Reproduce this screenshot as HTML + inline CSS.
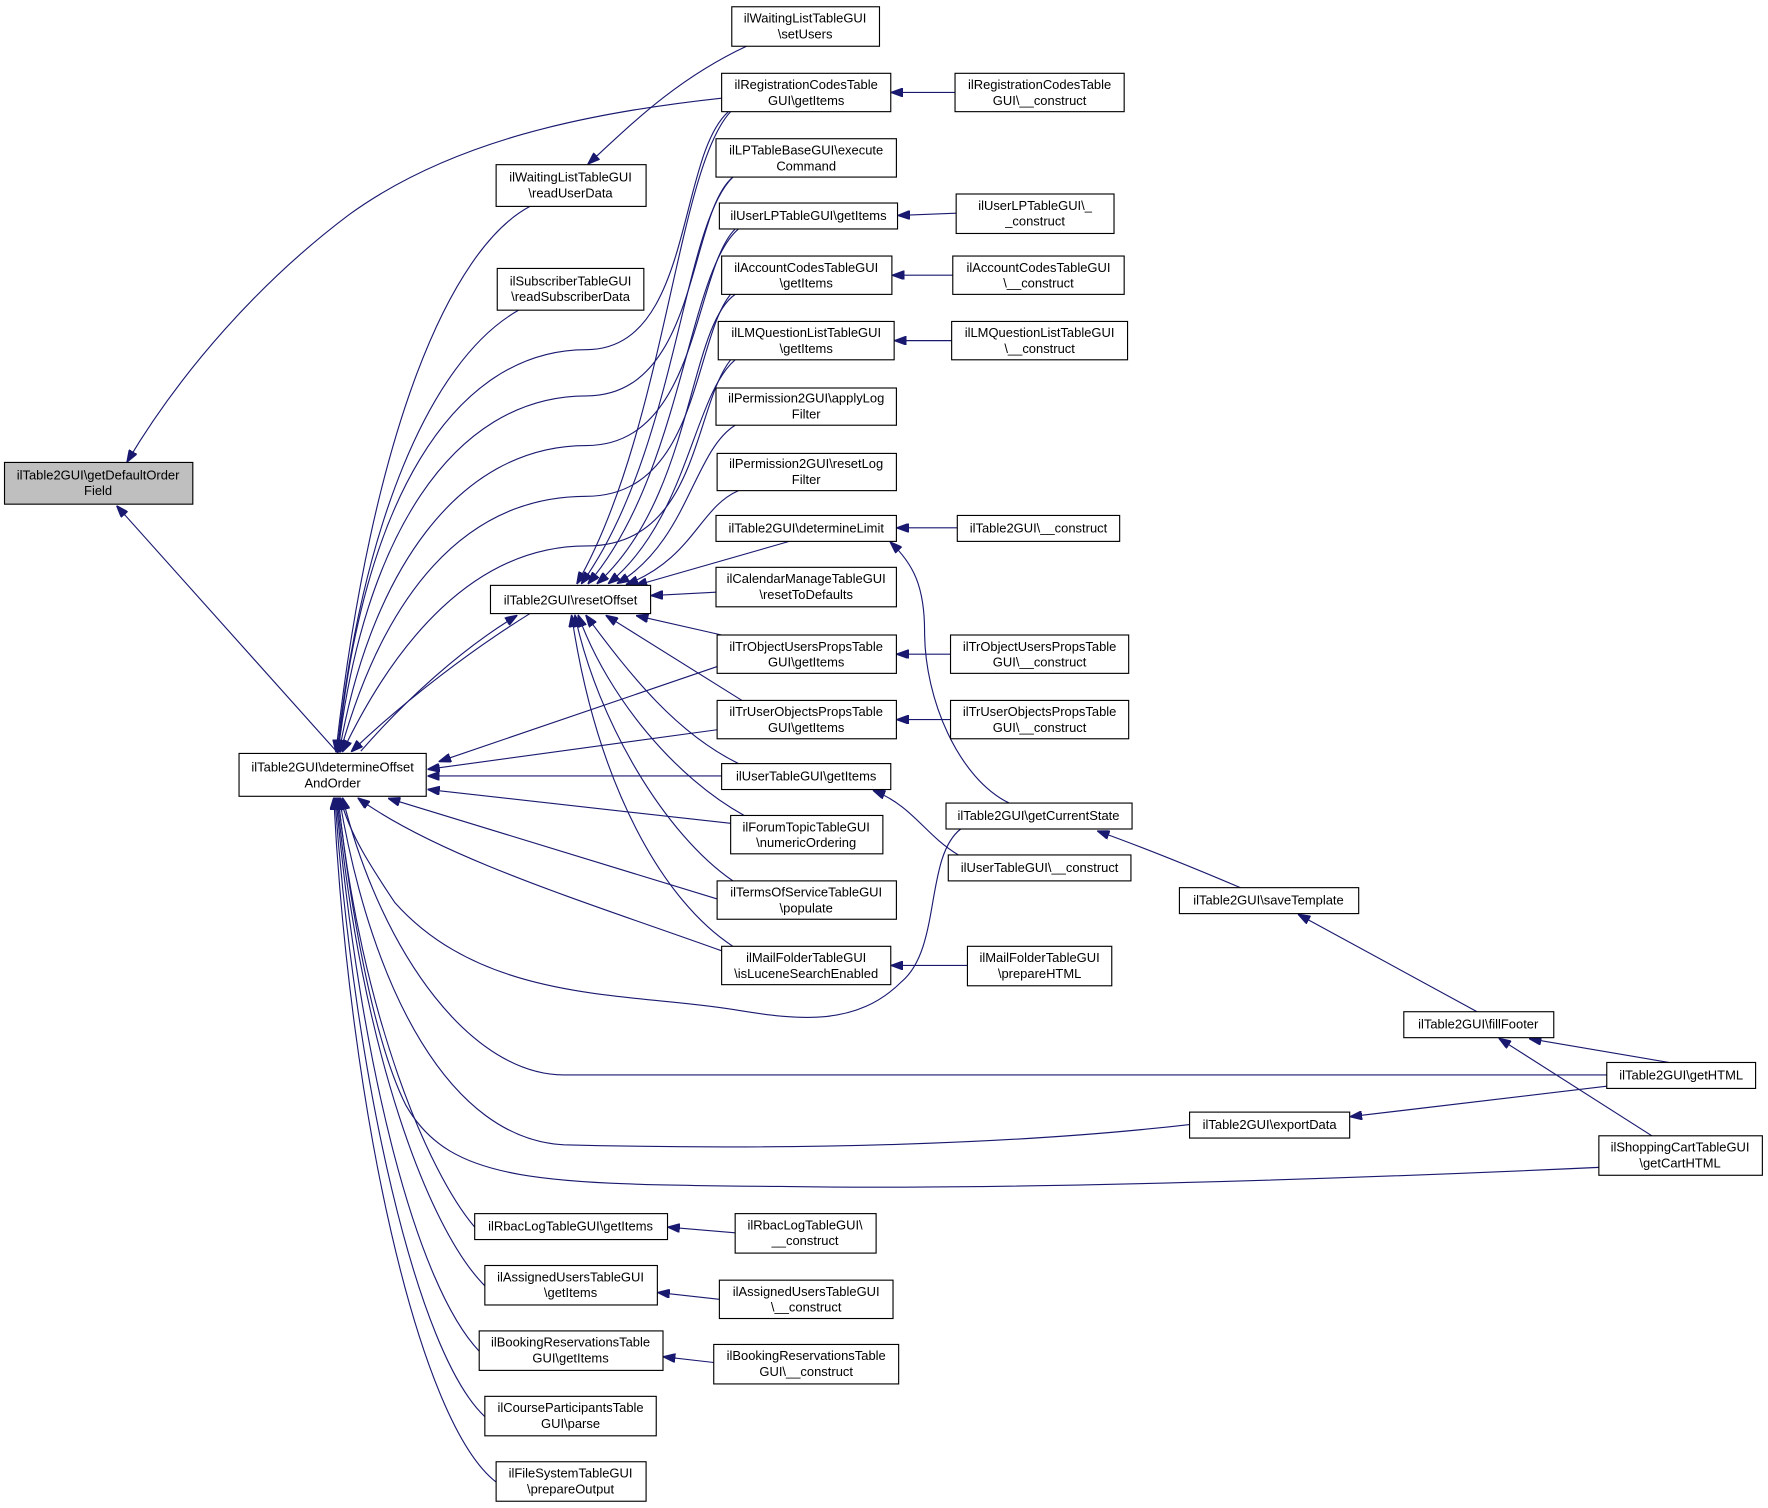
<!DOCTYPE html>
<html><head><meta charset="utf-8"><style>
html,body{margin:0;padding:0;background:#fff;}
svg{display:block;}
text{font-family:"Liberation Sans",Arial,sans-serif;font-size:11.5px;fill:#000;text-anchor:middle;}
rect{fill:#fff;stroke:#000;stroke-width:1;}
path{fill:none;stroke:#191970;stroke-width:1;}
</style></head><body>
<svg width="1768" height="1508" viewBox="0 0 1568 1337" preserveAspectRatio="none" xmlns="http://www.w3.org/2000/svg">
<defs><marker id="a" markerWidth="11" markerHeight="8" refX="10" refY="4" orient="auto" markerUnits="userSpaceOnUse"><path d="M0,0 L11,4 L0,8 z" style="fill:#191970;stroke:#191970"/></marker></defs>
<g marker-end="url(#a)">
<!-- to getDefaultOrderField -->
<path d="M640,87 C520,100 400,125 310,190 C230,250 160,330 113,409"/>
<path d="M300,668 L104,449"/>
<!-- to readUserData -->
<path d="M662,41 C600,70 560,110 522,145"/>
<!-- DO callers above -->
<path d="M470,183 C400,220 330,380 298,666"/>
<path d="M460,275 C380,320 320,470 299,666"/>
<path d="M646,99 C600,140 615,310 520,310 C400,310 320,450 300,666"/>
<path d="M650,157 C610,190 620,351 520,351 C400,351 322,480 300,666"/>
<path d="M652,203 C615,240 620,395 520,395 C405,395 328,510 301,666"/>
<path d="M648,261 C615,300 620,440 520,440 C410,440 340,530 302,666"/>
<path d="M648,319 C615,360 620,484 520,484 C420,484 350,570 304,666"/>
<!-- DO <-> RO -->
<path d="M470,544 C420,575 360,620 312,666"/>
<path d="M320,666 C360,620 410,575 458,546"/>
<!-- RO callers above -->
<path d="M648,99 C600,150 590,380 512,517"/>
<path d="M650,157 C605,200 600,400 516,517"/>
<path d="M655,203 C610,240 605,420 522,517"/>
<path d="M652,261 C610,290 615,440 530,517"/>
<path d="M652,319 C615,350 610,460 540,517"/>
<path d="M652,377 C615,400 610,480 548,517"/>
<path d="M655,435 C620,450 615,495 556,518"/>
<path d="M700,480 L564,519"/>
<path d="M635,525 L578,528"/>
<!-- RO callers below -->
<path d="M640,563 L565,546"/>
<path d="M658,621 L538,546"/>
<path d="M655,677 C600,650 560,600 520,546"/>
<path d="M660,723 C600,690 540,620 513,546"/>
<path d="M650,781 C590,740 530,640 510,546"/>
<path d="M650,839 C590,800 530,700 507,546"/>
<!-- DO straight callers -->
<path d="M636,591 L390,675"/>
<path d="M636,647 L380,682"/>
<path d="M640,688 L380,688"/>
<path d="M648,730 L380,700"/>
<path d="M636,797 L345,708"/>
<path d="M640,843 C520,800 390,760 318,708"/>
<!-- DO other callers -->
<path d="M852,735 C820,760 835,840 800,870 C760,910 710,905 650,895 C560,880 430,890 350,800 C330,770 310,740 302,708"/>
<path d="M1425,953 L500,953 C420,953 340,850 304,708"/>
<path d="M1055,997 C900,1015 700,1020 500,1015 C400,1010 330,880 301,708"/>
<path d="M1418,1035 C1200,1045 900,1055 700,1052 C480,1050 400,1050 360,980 C330,920 310,800 300,708"/>
<path d="M421,1088 C380,1040 320,900 300,708"/>
<path d="M430,1140 C380,1090 320,930 299,708"/>
<path d="M425,1198 C370,1140 320,950 298,708"/>
<path d="M430,1256 C370,1200 315,960 297,708"/>
<path d="M440,1314 C370,1260 310,980 296,708"/>
<!-- right side -->
<path d="M847,82 L791,82"/>
<path d="M848,189 L797,191"/>
<path d="M845,244 L792,244"/>
<path d="M844,302 L794,302"/>
<path d="M849,468 L796,468"/>
<path d="M843,580 L796,580"/>
<path d="M843,638 L796,638"/>
<path d="M858,856 L791,856"/>
<path d="M895,712 C850,690 820,620 820,560 C820,520 810,500 790,481"/>
<path d="M850,758 C820,740 810,715 775,701"/>
<path d="M1100,787 C1060,770 1010,750 974,737"/>
<path d="M1310,897 L1152,811"/>
<path d="M1480,942 L1357,921"/>
<path d="M1465,1007 L1330,921"/>
<path d="M1425,963 L1198,990"/>
<path d="M652,1093 L593,1088"/>
<path d="M638,1152 L584,1146"/>
<path d="M633,1208 L589,1203"/>
</g>
<!-- nodes -->
<rect x="4" y="410" width="167" height="37" style="fill:#bfbfbf"/><text x="87" y="425">ilTable2GUI\getDefaultOrder</text><text x="87" y="439">Field</text>
<rect x="212" y="668" width="166" height="38"/><text x="295" y="684">ilTable2GUI\determineOffset</text><text x="295" y="698">AndOrder</text>
<rect x="440" y="146" width="133" height="37"/><text x="506" y="161">ilWaitingListTableGUI</text><text x="506" y="175">\readUserData</text>
<rect x="441" y="238" width="130" height="37"/><text x="506" y="253">ilSubscriberTableGUI</text><text x="506" y="267">\readSubscriberData</text>
<rect x="435" y="519" width="142" height="25"/><text x="506" y="536">ilTable2GUI\resetOffset</text>
<rect x="649" y="6" width="131" height="35"/><text x="714" y="20">ilWaitingListTableGUI</text><text x="714" y="34">\setUsers</text>
<rect x="640" y="65" width="150" height="34"/><text x="715" y="79">ilRegistrationCodesTable</text><text x="715" y="93">GUI\getItems</text>
<rect x="635" y="123" width="160" height="34"/><text x="715" y="137">ilLPTableBaseGUI\execute</text><text x="715" y="151">Command</text>
<rect x="638" y="180" width="158" height="23"/><text x="717" y="195">ilUserLPTableGUI\getItems</text>
<rect x="640" y="227" width="151" height="34"/><text x="715" y="241">ilAccountCodesTableGUI</text><text x="715" y="255">\getItems</text>
<rect x="637" y="285" width="156" height="34"/><text x="715" y="299">ilLMQuestionListTableGUI</text><text x="715" y="313">\getItems</text>
<rect x="635" y="344" width="160" height="33"/><text x="715" y="357">ilPermission2GUI\applyLog</text><text x="715" y="371">Filter</text>
<rect x="636" y="402" width="159" height="33"/><text x="715" y="415">ilPermission2GUI\resetLog</text><text x="715" y="429">Filter</text>
<rect x="635" y="457" width="160" height="23"/><text x="715" y="472">ilTable2GUI\determineLimit</text>
<rect x="635" y="503" width="160" height="35"/><text x="715" y="517">ilCalendarManageTableGUI</text><text x="715" y="531">\resetToDefaults</text>
<rect x="636" y="563" width="159" height="34"/><text x="715" y="577">ilTrObjectUsersPropsTable</text><text x="715" y="591">GUI\getItems</text>
<rect x="636" y="621" width="159" height="34"/><text x="715" y="635">ilTrUserObjectsPropsTable</text><text x="715" y="649">GUI\getItems</text>
<rect x="640" y="677" width="150" height="23"/><text x="715" y="692">ilUserTableGUI\getItems</text>
<rect x="648" y="723" width="135" height="34"/><text x="715" y="737">ilForumTopicTableGUI</text><text x="715" y="751">\numericOrdering</text>
<rect x="636" y="781" width="159" height="34"/><text x="715" y="795">ilTermsOfServiceTableGUI</text><text x="715" y="809">\populate</text>
<rect x="640" y="839" width="150" height="34"/><text x="715" y="853">ilMailFolderTableGUI</text><text x="715" y="867">\isLuceneSearchEnabled</text>
<rect x="421" y="1076" width="171" height="23"/><text x="506" y="1091">ilRbacLogTableGUI\getItems</text>
<rect x="430" y="1122" width="153" height="35"/><text x="506" y="1136">ilAssignedUsersTableGUI</text><text x="506" y="1150">\getItems</text>
<rect x="425" y="1180" width="163" height="35"/><text x="506" y="1194">ilBookingReservationsTable</text><text x="506" y="1208">GUI\getItems</text>
<rect x="430" y="1238" width="152" height="35"/><text x="506" y="1252">ilCourseParticipantsTable</text><text x="506" y="1266">GUI\parse</text>
<rect x="440" y="1296" width="133" height="35"/><text x="506" y="1310">ilFileSystemTableGUI</text><text x="506" y="1324">\prepareOutput</text>
<rect x="847" y="65" width="150" height="34"/><text x="922" y="79">ilRegistrationCodesTable</text><text x="922" y="93">GUI\__construct</text>
<rect x="848" y="172" width="140" height="35"/><text x="918" y="186">ilUserLPTableGUI\_</text><text x="918" y="200">_construct</text>
<rect x="845" y="227" width="152" height="34"/><text x="921" y="241">ilAccountCodesTableGUI</text><text x="921" y="255">\__construct</text>
<rect x="844" y="285" width="156" height="34"/><text x="922" y="299">ilLMQuestionListTableGUI</text><text x="922" y="313">\__construct</text>
<rect x="849" y="457" width="144" height="23"/><text x="921" y="472">ilTable2GUI\__construct</text>
<rect x="843" y="563" width="158" height="34"/><text x="922" y="577">ilTrObjectUsersPropsTable</text><text x="922" y="591">GUI\__construct</text>
<rect x="843" y="621" width="158" height="34"/><text x="922" y="635">ilTrUserObjectsPropsTable</text><text x="922" y="649">GUI\__construct</text>
<rect x="839" y="712" width="165" height="23"/><text x="921" y="727">ilTable2GUI\getCurrentState</text>
<rect x="841" y="758" width="162" height="23"/><text x="922" y="773">ilUserTableGUI\__construct</text>
<rect x="858" y="839" width="128" height="35"/><text x="922" y="853">ilMailFolderTableGUI</text><text x="922" y="867">\prepareHTML</text>
<rect x="1046" y="787" width="159" height="23"/><text x="1125" y="802">ilTable2GUI\saveTemplate</text>
<rect x="1245" y="897" width="133" height="23"/><text x="1311" y="912">ilTable2GUI\fillFooter</text>
<rect x="1425" y="942" width="132" height="23"/><text x="1491" y="957">ilTable2GUI\getHTML</text>
<rect x="1055" y="986" width="142" height="23"/><text x="1126" y="1001">ilTable2GUI\exportData</text>
<rect x="1418" y="1007" width="145" height="35"/><text x="1490" y="1021">ilShoppingCartTableGUI</text><text x="1490" y="1035">\getCartHTML</text>
<rect x="652" y="1076" width="125" height="35"/><text x="714" y="1090">ilRbacLogTableGUI\</text><text x="714" y="1104">__construct</text>
<rect x="638" y="1135" width="154" height="34"/><text x="715" y="1149">ilAssignedUsersTableGUI</text><text x="715" y="1163">\__construct</text>
<rect x="633" y="1192" width="164" height="35"/><text x="715" y="1206">ilBookingReservationsTable</text><text x="715" y="1220">GUI\__construct</text>
</svg>
</body></html>
